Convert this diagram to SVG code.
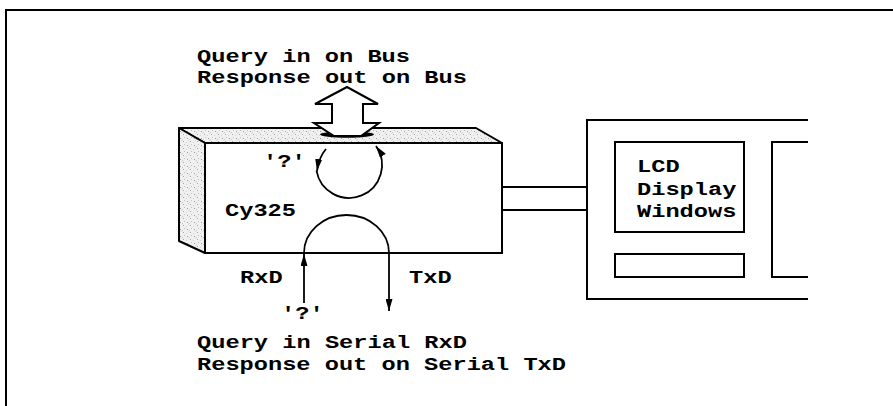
<svg xmlns="http://www.w3.org/2000/svg" width="893" height="406" viewBox="0 0 893 406">
  <style>
    .ln { fill: none; stroke: #000; stroke-width: 2; }
    .thin { fill: none; stroke: #000; stroke-width: 1.8; }
    .lbl { font-family: "Liberation Mono", "DejaVu Sans Mono", monospace; font-weight: bold; font-size: 19px; fill: #000; }
    .face { fill: url(#stipple); stroke: #000; stroke-width: 2; stroke-linejoin: round; }
  </style>
  <defs>
    <!-- speckled grey used for the top and side of the Cy325 block -->
    <pattern id="stipple" width="7" height="7" patternUnits="userSpaceOnUse">
      <rect width="7" height="7" fill="#f0f0f0"/>
      <rect x="1" y="1" width="1" height="1" fill="#a8a8a8"/>
      <rect x="4" y="2" width="1" height="1" fill="#d2d2d2"/>
      <rect x="2" y="4" width="1" height="1" fill="#c0c0c0"/>
      <rect x="5" y="5" width="1" height="1" fill="#9c9c9c"/>
      <rect x="6" y="0" width="1" height="1" fill="#dcdcdc"/>
      <rect x="0" y="6" width="1" height="1" fill="#cacaca"/>
    </pattern>
    <marker id="arrow" viewBox="0 0 12 7" refX="12" refY="3.5" markerWidth="12" markerHeight="7" markerUnits="userSpaceOnUse" orient="auto">
      <path d="M0,0 L12,3.5 L0,7 Z" fill="#000"/>
    </marker>
  </defs>

  <rect width="893" height="406" fill="#fff"/>

  <!-- outer frame (top and left edges) -->
  <path class="ln" d="M6,406 L6,10 L893,10"/>

  <!-- Cy325 block drawn as a 3D box -->
  <g id="cy325">
    <polygon class="face" points="179,128 476,128 502,143 205,143"/>
    <polygon class="face" points="179,128 205,143 205,253 179,241"/>
    <rect x="205" y="143" width="297" height="110" fill="#fff" stroke="#000" stroke-width="2"/>
    <text class="lbl" x="225" y="216" textLength="71" lengthAdjust="spacingAndGlyphs">Cy325</text>
  </g>

  <!-- bus interface: double-headed block arrow on the top face -->
  <g id="bus">
    <ellipse cx="347" cy="134.5" rx="27" ry="3.2" fill="#000"/>
    <polygon points="347,87 378,104 363,104 363,123 379,123 361,136 334,136 314,123 332,123 332,104 315,104" fill="#fff" stroke="#000" stroke-width="2" stroke-linejoin="miter"/>
    <text class="lbl" x="197" y="62" textLength="213" lengthAdjust="spacingAndGlyphs">Query in on Bus</text>
    <text class="lbl" x="197" y="83" textLength="270" lengthAdjust="spacingAndGlyphs">Response out on Bus</text>
  </g>

  <!-- PC / display unit -->
  <g id="display">
    <path class="ln" d="M808,120 L587,120 L587,299 L808,299"/>
    <rect class="ln" x="615" y="142" width="129" height="90"/>
    <rect class="ln" x="615" y="254" width="129" height="23"/>
    <path class="ln" d="M808,142 L772,142 L772,277 L808,277"/>
    <text class="lbl" x="637" y="172" textLength="42.6" lengthAdjust="spacingAndGlyphs">LCD</text>
    <text class="lbl" x="637" y="195" textLength="99.4" lengthAdjust="spacingAndGlyphs">Display</text>
    <text class="lbl" x="637" y="217" textLength="99.4" lengthAdjust="spacingAndGlyphs">Windows</text>
  </g>

  <!-- serial port labels -->
  <g id="serial">
    <text class="lbl" x="240" y="283" textLength="42.6" lengthAdjust="spacingAndGlyphs">RxD</text>
    <text class="lbl" x="409" y="283" textLength="42.6" lengthAdjust="spacingAndGlyphs">TxD</text>
    <text class="lbl" x="281" y="319" textLength="42.6" lengthAdjust="spacingAndGlyphs">'?'</text>
    <text class="lbl" x="197" y="348" textLength="270" lengthAdjust="spacingAndGlyphs">Query in Serial RxD</text>
    <text class="lbl" x="197" y="370" textLength="369" lengthAdjust="spacingAndGlyphs">Response out on Serial TxD</text>
  </g>

  <g id="bus-query">
    <text class="lbl" x="263" y="167" textLength="42.6" lengthAdjust="spacingAndGlyphs">'?'</text>
  </g>

  <!-- connectors -->
  <g id="connectors">
    <!-- cable between block and display -->
    <path class="ln" d="M502,187 L587,187 M502,210 L587,210"/>
    <!-- bus query / response loop -->
    <path class="thin" d="M326,149 Q319,157 317,171" marker-end="url(#arrow)"/>
    <path class="thin" d="M316.5,170.7 A33,33 0 1 0 376,146" marker-end="url(#arrow)"/>
    <!-- serial query / response path -->
    <path class="thin" d="M304,253 A42.5,38 0 0 1 389,253"/>
    <path class="thin" d="M304,303 L304,254" marker-end="url(#arrow)"/>
    <path class="thin" d="M389,253 L389,311" marker-end="url(#arrow)"/>
  </g>
</svg>
